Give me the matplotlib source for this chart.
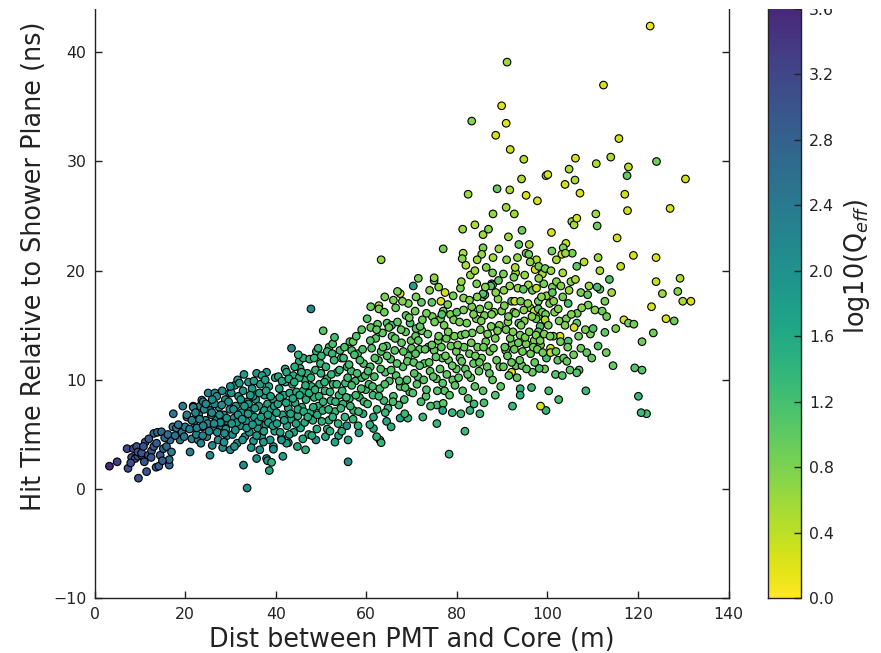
import matplotlib
matplotlib.use("Agg")
import matplotlib.pyplot as plt
import numpy as np
from matplotlib.colors import Normalize
from matplotlib.patches import Rectangle

# ---- data ----
# dist: distance between PMT and core (m), time: hit time (ns), logq: log10(Q_eff)
dist_a = [3.3, 5.0, 7.4, 7.2, 8.6, 9.3, 8.2, 9.0, 9.6, 10.4, 9.7, 9.6, 10.4, 11.5, 11.9, 12.6, 13.1, 13.7, 13.6, 14.2,
          14.5, 15.2, 15.9, 13.1, 13.9, 14.8, 16.5, 16.5, 16.7, 17.0, 17.4, 17.3, 18.1, 18.9, 19.3, 20.0, 20.4, 19.5,
          11.2, 12.0, 10.8, 15.5, 16.2, 17.8, 18.5, 19.8, 12.5, 15.0, 8.0, 11.0]
time_a = [2.1, 2.5, 1.9, 3.7, 3.7, 3.9, 2.9, 2.8, 3.0, 3.1, 1.0, 3.4, 3.3, 1.6, 3.1, 3.5, 3.9, 4.2, 2.0, 2.1,
          3.1, 3.7, 3.9, 5.1, 5.2, 5.25, 2.2, 2.7, 4.5, 3.4, 6.9, 5.7, 5.6, 4.5, 5.2, 5.7, 6.6, 7.6,
          4.3, 4.6, 3.9, 4.7, 5.0, 4.9, 5.9, 4.8, 2.9, 2.6, 2.4, 2.5]
logq_a = [3.6, 3.3, 3.1, 3.15, 3.1, 3.05, 3.1, 3.05, 3.05, 3.0, 3.05, 3.05, 3.0, 3.0, 2.95, 2.95, 2.9, 2.85, 2.95, 2.9,
          2.9, 2.75, 2.7, 2.75, 2.7, 2.65, 2.75, 2.6, 2.6, 2.3, 2.4, 2.45, 2.4, 2.45, 2.4, 2.4, 2.35, 2.35,
          2.95, 2.9, 3.0, 2.7, 2.65, 2.55, 2.45, 2.4, 2.95, 2.85, 3.1, 3.0]

dist_b = [21.1, 21.5, 22.9, 21.8, 23.3, 23.7, 25.5, 25.1, 26.6, 20.4, 21.8, 24.0, 21.0, 22.0, 22.5, 23.0, 23.8, 24.5,
          24.8, 25.5, 26.2, 26.8, 27.3, 27.5, 28.0, 28.5, 28.9, 29.3, 29.5, 29.9, 30.0, 26.0, 28.3, 22.3, 25.0, 27.0,
          29.8, 23.5, 24.2, 26.5, 28.2, 27.8, 29.0, 21.5, 25.8]
time_b = [3.4, 4.6, 4.5, 7.6, 7.6, 8.15, 3.1, 8.8, 8.8, 6.8, 7.5, 8.0, 5.5, 6.2, 5.0, 6.8, 5.7, 6.3,
          4.8, 7.2, 5.5, 6.5, 4.5, 7.5, 5.8, 6.8, 8.2, 4.9, 6.2, 7.3, 3.6, 4.0, 3.8, 7.0, 6.0, 8.5,
          8.8, 4.2, 7.3, 7.8, 9.0, 6.1, 5.5, 6.3, 6.8]
logq_b = [2.3, 2.25, 2.2, 2.25, 2.2, 2.2, 2.15, 2.2, 2.1, 2.3, 2.25, 2.2, 2.3, 2.25, 2.2, 2.2, 2.15, 2.15,
          2.2, 2.1, 2.1, 2.1, 2.1, 2.05, 2.05, 2.0, 2.05, 2.0, 2.0, 1.95, 2.1, 2.15, 2.05, 2.25, 2.15, 2.1,
          2.0, 2.2, 2.15, 2.1, 2.05, 2.05, 2.0, 2.3, 2.1]

dist_c = [31.0, 34.0, 32.9, 33.7, 35.8, 38.0, 38.2, 39.1, 38.6, 39.5, 39.5, 35.8, 38.0, 30.5, 30.8, 31.2, 31.5, 31.8,
          32.2, 32.5, 32.8, 33.2, 33.5, 33.8, 34.2, 34.5, 34.8, 35.1, 35.3, 35.6, 36.0, 36.3, 36.6, 36.9, 37.2, 37.5,
          37.8, 38.2, 38.5, 38.8, 39.2, 39.5, 39.8, 39.9, 30.2, 31.6, 33.0, 34.6, 36.5, 37.0, 30.9, 32.0, 35.0, 37.5,
          39.0, 33.6, 36.2, 38.4, 31.4, 34.0, 37.3]
time_c = [9.5, 9.8, 2.2, 0.1, 2.8, 2.8, 2.6, 2.45, 1.7, 3.9, 3.65, 10.6, 10.7, 5.0, 6.5, 7.6, 4.2, 8.5,
          5.8, 7.0, 9.0, 4.8, 6.2, 8.0, 5.2, 7.2, 9.2, 4.4, 6.6, 8.2, 5.6, 7.6, 9.6, 4.8, 6.9, 8.6,
          5.9, 7.8, 9.4, 4.5, 6.5, 8.2, 5.3, 10.2, 8.8, 10.0, 10.5, 3.8, 3.6, 10.4, 3.9, 9.7, 8.5, 7.2,
          7.3, 5.6, 6.2, 6.1, 6.1, 7.8, 4.3]
logq_c = [1.95, 1.9, 2.1, 2.05, 2.0, 1.95, 2.0, 1.45, 1.6, 1.85, 1.95, 1.9, 1.85, 2.0, 1.95, 1.95, 2.0, 1.9,
          1.95, 1.9, 1.9, 1.95, 1.9, 1.85, 1.9, 1.85, 1.85, 1.9, 1.85, 1.8, 1.85, 1.8, 1.8, 1.85, 1.75, 1.75,
          1.8, 1.75, 1.7, 1.85, 1.7, 1.7, 1.75, 1.7, 1.95, 1.9, 1.85, 1.95, 1.95, 1.75, 2.0, 1.9, 1.8, 1.75,
          1.7, 1.9, 1.8, 1.75, 1.95, 1.85, 1.85]

dist_d = [41.3, 42.8, 42.1, 42.4, 43.9, 43.5, 45.2, 46.1, 45.4, 46.5, 47.8, 48.9, 46.6, 42.4, 41.3, 40.3, 40.5, 40.8,
          41.0, 41.5, 41.8, 42.2, 42.5, 42.8, 43.1, 43.4, 43.7, 44.0, 44.3, 44.6, 44.9, 45.2, 45.5, 45.8, 46.1, 46.4,
          46.7, 47.0, 47.3, 47.6, 47.9, 48.2, 48.5, 48.8, 49.1, 49.4, 49.7, 49.9, 40.6, 44.2, 47.5, 43.0, 46.0, 48.0,
          41.6, 44.8, 49.0]
time_d = [4.65, 4.25, 11.0, 10.7, 10.4, 12.9, 11.7, 12.0, 11.05, 10.0, 16.5, 4.5, 3.6, 4.2, 4.5, 6.0, 7.8, 9.2,
          5.2, 6.8, 8.6, 9.8, 5.8, 7.4, 8.8, 6.4, 9.6, 5.2, 7.9, 8.9, 6.7, 10.2, 5.6, 7.5, 9.0, 6.1,
          8.2, 10.6, 5.0, 7.0, 9.4, 6.3, 8.4, 10.9, 5.5, 7.6, 9.6, 11.5, 10.3, 11.2, 11.9, 5.0, 4.6, 4.9,
          3.0, 3.9, 12.6]
logq_d = [1.75, 1.7, 1.6, 1.6, 1.55, 2.2, 1.5, 1.5, 1.55, 1.5, 2.05, 2.0, 1.45, 1.8, 2.0, 1.7, 1.7, 1.65,
          1.7, 1.65, 1.65, 1.6, 1.65, 1.6, 1.6, 1.6, 1.55, 1.65, 1.55, 1.55, 1.55, 1.5, 1.6, 1.5, 1.5, 1.55,
          1.5, 1.45, 1.55, 1.5, 1.45, 1.5, 1.45, 1.4, 1.5, 1.45, 1.4, 1.35, 1.65, 1.5, 1.4, 1.65, 1.6, 1.55,
          1.8, 1.6, 1.35]

dist_e = [50.5, 52.6, 54.2, 55.2, 56.4, 57.1, 49.4, 51.4, 52.5, 56.0, 58.4, 53.1, 55.7, 59.3, 50.2, 50.5, 50.8, 51.1,
          51.4, 51.7, 52.0, 52.3, 52.6, 52.9, 53.2, 53.5, 53.8, 54.1, 54.4, 54.7, 55.0, 55.3, 55.6, 55.9, 56.2, 56.5,
          56.8, 57.1, 57.4, 57.7, 58.0, 58.3, 58.6, 58.9, 59.2, 59.5, 59.8, 50.1, 53.0, 57.8, 54.6, 51.0, 59.0, 56.0,
          58.2, 52.0]
time_e = [14.5, 13.3, 12.7, 13.0, 13.5, 13.5, 12.9, 12.6, 12.4, 2.5, 5.15, 4.3, 5.8, 6.9, 6.2, 8.0, 9.8, 11.2,
          5.5, 7.3, 8.9, 10.5, 6.6, 11.8, 8.0, 9.6, 6.0, 10.9, 7.4, 9.0, 12.0, 6.6, 8.4, 10.2, 11.4, 7.6,
          9.5, 6.4, 12.3, 8.6, 10.6, 7.1, 11.8, 9.2, 12.8, 8.0, 10.4, 12.2, 13.9, 14.0, 5.3, 4.8, 14.6, 4.5,
          5.8, 5.3]
logq_e = [1.05, 1.2, 1.2, 1.15, 1.1, 0.95, 1.4, 1.4, 1.35, 2.05, 1.8, 1.65, 2.0, 1.6, 1.45, 1.4, 1.4, 1.35,
          1.5, 1.4, 1.35, 1.35, 1.4, 1.3, 1.35, 1.3, 1.4, 1.3, 1.35, 1.3, 1.25, 1.35, 1.3, 1.25, 1.25, 1.3,
          1.25, 1.35, 1.2, 1.25, 1.2, 1.3, 1.2, 1.2, 1.15, 1.25, 1.2, 1.35, 1.2, 1.1, 1.5, 1.6, 1.05, 1.6,
          1.45, 1.5]

dist_f = [60.2, 62.5, 64.6, 65.6, 67.5, 66.9, 64.1, 62.8, 62.8, 69.3, 68.8, 69.7, 63.3, 63.0, 63.3, 62.3, 61.6, 67.5,
          64.5, 61.6, 60.3, 60.6, 60.9, 61.2, 61.5, 61.8, 62.1, 62.4, 62.7, 63.0, 63.3, 63.6, 63.9, 64.2, 64.5, 64.8,
          65.1, 65.4, 65.7, 66.0, 66.3, 66.6, 66.9, 67.2, 67.5, 67.8, 68.1, 68.4, 68.7, 69.0, 69.3, 69.6, 69.9, 61.0,
          64.0, 66.5, 68.0, 60.8, 65.5, 69.2]
time_f = [15.6, 15.1, 15.2, 15.0, 17.9, 18.1, 17.6, 16.8, 16.5, 17.0, 15.9, 15.2, 21.0, 4.5, 4.25, 4.8, 5.55, 6.5,
          6.2, 6.6, 7.8, 9.6, 11.2, 12.9, 8.6, 10.3, 13.8, 7.3, 11.8, 9.2, 12.6, 14.3, 8.1, 10.7, 13.1, 7.4,
          9.9, 11.9, 14.0, 8.5, 12.7, 10.4, 15.3, 7.7, 9.4, 13.4, 11.2, 8.2, 14.4, 10.0, 12.2, 8.9, 13.6, 14.8,
          16.2, 16.6, 17.2, 5.9, 5.7, 6.5]
logq_f = [1.1, 1.0, 1.1, 1.3, 0.4, 0.85, 0.85, 0.5, 0.85, 0.85, 1.0, 1.2, 0.65, 1.55, 1.35, 1.45, 1.6, 1.7,
          1.6, 1.5, 1.25, 1.2, 1.15, 1.1, 1.25, 1.2, 1.05, 1.3, 1.1, 1.2, 1.1, 1.0, 1.25, 1.15, 1.05, 1.3,
          1.15, 1.1, 1.0, 1.2, 1.05, 1.1, 1.0, 1.25, 1.15, 1.0, 1.1, 1.2, 0.95, 1.1, 1.05, 1.15, 0.95, 1.0,
          0.9, 0.9, 0.75, 1.45, 1.5, 1.4]

dist_g = [70.4, 75.0, 77.4, 79.2, 72.2, 74.5, 76.5, 73.3, 77.0, 76.7, 80.0, 71.0, 71.9, 75.6, 77.0, 76.9, 75.6, 78.3,
          70.3, 70.6, 70.9, 71.2, 71.5, 71.8, 72.1, 72.4, 72.7, 73.0, 73.3, 73.6, 73.9, 74.2, 74.5, 74.8, 75.1, 75.4,
          75.7, 76.0, 76.3, 76.6, 76.9, 77.2, 77.5, 77.8, 78.1, 78.4, 78.7, 79.0, 79.3, 79.6, 79.9, 70.8, 74.0, 78.0,
          72.5, 79.0, 71.5, 77.0, 75.0]
time_g = [18.6, 19.1, 18.0, 17.7, 17.1, 17.1, 17.2, 16.1, 16.3, 16.0, 16.2, 14.7, 14.9, 7.7, 7.85, 7.2, 6.0, 3.2,
          8.8, 10.6, 12.4, 9.6, 13.6, 11.3, 8.0, 15.5, 10.0, 12.8, 9.1, 14.2, 11.6, 7.6, 13.2, 10.3, 15.3, 12.1,
          9.0, 14.0, 11.0, 13.0, 9.7, 15.0, 12.2, 10.5, 14.4, 8.6, 13.1, 11.3, 15.5, 9.5, 12.6, 16.3, 18.2, 16.9,
          6.6, 7.0, 19.3, 22.0, 19.35]
logq_g = [1.7, 0.85, 0.3, 0.85, 1.0, 1.0, 0.25, 0.85, 1.0, 1.1, 1.0, 1.1, 1.0, 1.25, 1.05, 1.6, 1.35, 1.35,
          1.15, 1.1, 1.05, 1.1, 1.0, 1.05, 1.2, 0.9, 1.1, 1.0, 1.1, 0.95, 1.0, 1.2, 0.95, 1.05, 0.9, 1.0,
          1.1, 0.9, 1.0, 0.95, 1.05, 0.85, 0.9, 1.0, 0.85, 1.1, 0.9, 0.95, 0.8, 1.05, 0.9, 0.9, 0.75, 0.85,
          1.3, 1.3, 0.85, 0.85, 0.65]

dist_h = [84.4, 87.7, 83.3, 85.1, 85.7, 86.2, 85.8, 81.8, 85.1, 83.8, 82.9, 82.5, 83.3, 88.6, 89.9, 88.9, 85.8, 85.8,
          85.5, 89.3, 87.9, 87.9, 89.2, 87.5, 80.4, 80.7, 81.0, 81.3, 81.6, 81.9, 82.2, 82.5, 82.8, 83.1, 83.4, 83.7,
          84.0, 84.3, 84.6, 84.9, 85.2, 85.5, 85.8, 86.1, 86.4, 86.7, 87.0, 87.3, 87.6, 87.9, 88.2, 88.5, 88.8, 89.1,
          89.4, 89.7, 81.5, 83.0, 84.5, 86.5, 82.0, 80.8, 88.0, 84.0, 87.0, 86.0, 88.5, 80.9, 81.3, 81.4, 81.2]
time_h = [18.8, 18.8, 16.7, 16.5, 17.6, 17.8, 17.9, 5.3, 6.9, 7.8, 7.2, 27.0, 33.7, 32.4, 35.1, 27.5, 23.3, 22.1,
          21.5, 22.0, 19.8, 18.7, 19.1, 18.6, 10.2, 12.0, 14.1, 9.0, 13.0, 11.0, 15.2, 8.3, 12.4, 10.2, 14.3, 11.5,
          9.4, 15.6, 13.0, 10.8, 14.6, 12.0, 9.0, 15.9, 13.5, 11.2, 16.8, 12.6, 14.9, 10.0, 16.2, 13.8, 11.8, 17.4,
          15.0, 9.4, 17.5, 19.6, 21.0, 20.3, 20.5, 18.4, 25.2, 24.2, 23.8, 7.9, 8.6, 6.9, 23.8, 21.6, 21.1]
logq_h = [0.85, 1.0, 0.85, 0.85, 0.85, 1.1, 1.1, 1.3, 1.3, 1.3, 1.4, 0.6, 0.75, 0.25, 0.2, 0.95, 0.6, 0.85,
          0.65, 0.6, 0.85, 1.0, 0.95, 1.1, 1.05, 1.0, 0.95, 1.1, 0.95, 1.0, 0.9, 1.1, 0.95, 1.0, 0.9, 0.95,
          1.05, 0.85, 0.9, 0.95, 0.85, 0.9, 1.05, 0.85, 0.9, 0.95, 0.8, 0.9, 0.85, 1.0, 0.75, 0.85, 0.95, 0.7,
          0.8, 1.0, 0.75, 0.65, 0.6, 0.75, 0.5, 0.85, 0.65, 0.5, 0.75, 1.2, 1.1, 1.3, 0.6, 0.5, 0.75]

dist_i = [91.1, 90.9, 91.8, 94.8, 94.3, 99.7, 100.1, 91.7, 95.3, 97.8, 90.9, 92.7, 94.4, 91.4, 93.7, 95.3, 95.9, 97.3,
          98.1, 99.5, 92.9, 90.3, 92.6, 94.7, 96.7, 97.6, 99.2, 92.1, 92.8, 94.1, 98.0, 97.1, 98.0, 98.9, 99.6, 91.4,
          93.7, 97.5, 98.4, 99.5, 98.0, 99.8, 98.2, 96.5, 94.0, 94.0, 92.3, 92.1, 99.7, 98.5, 90.3, 90.6, 90.9, 91.2,
          91.5, 91.8, 92.1, 92.4, 92.7, 93.0, 93.3, 93.6, 93.9, 94.2, 94.5, 94.8, 95.1, 95.4, 95.7, 96.0, 96.3, 96.6,
          96.9, 97.2, 97.5, 97.8, 98.1, 98.4, 98.7, 99.0, 99.3, 95.0, 96.2, 93.4, 91.0, 90.5]
time_i = [39.1, 33.5, 31.1, 30.2, 28.4, 28.7, 28.8, 27.4, 26.9, 26.4, 25.8, 25.2, 23.7, 23.1, 22.4, 21.6, 21.5, 20.1,
          20.4, 20.2, 20.3, 19.7, 19.4, 18.3, 18.2, 18.4, 18.8, 17.2, 17.2, 17.2, 17.2, 16.3, 16.5, 16.2, 16.0, 15.8,
          15.2, 15.6, 14.9, 15.5, 14.4, 12.0, 11.05, 9.3, 9.2, 8.6, 7.6, 10.7, 7.2, 7.6, 11.2, 13.0, 14.6, 12.2,
          10.4, 13.8, 11.6, 14.4, 12.8, 16.1, 10.2, 13.4, 11.8, 15.0, 12.6, 16.4, 13.9, 11.0, 17.0, 14.4, 12.4, 15.8,
          13.0, 11.6, 14.1, 12.8, 19.3, 13.6, 17.6, 12.5, 14.2, 19.6, 20.8, 21.2, 21.0, 16.8]
logq_i = [0.6, 0.2, 0.3, 0.45, 0.5, 0.45, 0.25, 0.5, 0.25, 0.25, 0.6, 0.6, 0.9, 0.6, 1.0, 0.85, 0.9, 0.25,
          0.85, 0.85, 0.5, 0.85, 0.85, 1.0, 1.0, 0.35, 0.85, 1.1, 0.35, 0.9, 0.9, 0.25, 1.0, 0.85, 0.9, 0.85,
          1.1, 0.9, 1.1, 0.5, 1.0, 1.2, 1.2, 1.3, 1.45, 1.45, 1.3, 0.25, 1.35, 0.25, 1.0, 0.95, 0.9, 0.95,
          1.0, 0.9, 0.95, 0.85, 0.9, 0.8, 1.0, 0.9, 0.95, 0.8, 0.9, 0.75, 0.85, 1.0, 0.7, 0.8, 0.9, 0.75,
          0.85, 0.95, 0.8, 0.9, 0.7, 0.85, 0.7, 0.9, 0.8, 0.65, 0.7, 0.65, 0.7, 0.8]

dist_j = [101.1, 101.1, 100.9, 104.1, 103.5, 105.5, 103.2, 104.0, 106.5, 105.4, 105.9, 106.5, 106.2, 104.8, 106.1,
          103.9, 107.2, 107.4, 108.9, 103.4, 104.6, 109.0, 106.6, 106.5, 105.9, 102.8, 104.6, 104.5, 107.4, 108.7,
          100.7, 100.7, 105.0, 107.0, 106.5, 108.5, 100.2, 100.5, 100.8, 101.3, 101.6, 102.0, 102.3, 102.6, 103.0,
          101.8, 103.6, 104.2, 105.2, 102.0, 100.3, 101.0, 102.5, 103.3, 109.5]
time_j = [18.5, 18.0, 23.5, 22.5, 22.1, 21.6, 21.5, 21.6, 20.4, 24.5, 24.2, 24.8, 30.3, 29.3, 28.3,
          27.9, 27.1, 18.0, 17.8, 17.6, 17.0, 16.85, 16.1, 15.2, 14.8, 14.0, 13.55, 13.0, 12.9, 12.5,
          12.9, 12.5, 10.9, 10.9, 10.65, 9.0, 15.0, 17.0, 20.0, 14.0, 16.2, 19.0, 11.8, 15.4, 18.6,
          10.5, 12.0, 15.6, 19.0, 21.0, 9.0, 21.8, 8.2, 10.4, 14.2]
logq_j = [0.85, 1.0, 0.25, 0.35, 0.85, 0.85, 0.25, 0.65, 1.0, 0.65, 0.55, 0.25, 0.25, 0.5, 0.5,
          0.3, 0.25, 0.85, 1.0, 0.9, 1.2, 0.85, 0.9, 1.0, 0.25, 0.25, 1.2, 0.9, 0.9, 1.0,
          0.35, 0.4, 1.0, 1.1, 1.1, 1.3, 0.85, 0.85, 0.65, 0.9, 0.75, 0.75, 1.0, 0.85, 0.75,
          1.1, 0.95, 0.85, 0.75, 0.55, 1.2, 0.85, 1.2, 1.1, 0.85]

dist_k = [110.7, 111.0, 112.4, 115.8, 110.8, 114.0, 117.9, 117.6, 117.1, 117.7, 115.4, 111.2, 113.7, 111.6, 111.0,
          112.7, 112.1, 113.1, 110.1, 112.7, 111.2, 116.9, 117.9, 119.1, 119.3, 120.9, 120.1, 121.9, 120.9, 119.0,
          122.7, 124.1, 130.5, 127.1, 124.0, 124.0, 129.3, 125.4, 128.8, 129.9, 131.7, 123.0, 126.2, 128.0, 123.4,
          120.7]
time_k = [25.2, 24.1, 37.0, 32.1, 29.8, 30.4, 29.5, 28.7, 27.0, 25.5, 23.0, 21.2, 19.2, 18.3, 18.5,
          17.2, 16.3, 15.8, 14.7, 14.35, 13.1, 15.5, 15.2, 15.1, 11.1, 10.9, 8.5, 6.9, 13.5, 21.4,
          42.4, 30.0, 28.4, 25.7, 21.2, 19.0, 19.3, 17.9, 18.1, 17.2, 17.2, 16.7, 15.6, 15.4, 14.3,
          7.0]
logq_k = [0.6, 0.9, 0.25, 0.3, 0.5, 0.5, 0.45, 1.0, 0.3, 0.25, 0.25, 0.6, 1.1, 1.0, 1.2,
          0.85, 0.9, 0.9, 1.1, 1.0, 1.1, 0.25, 0.9, 0.9, 1.1, 1.1, 1.35, 1.2, 0.9, 0.25,
          0.15, 0.9, 0.3, 0.25, 0.25, 0.35, 0.5, 0.6, 0.75, 0.5, 0.25, 0.25, 0.25, 0.9, 0.9,
          1.3]

# denser core of the band
dist_m = [22.6, 23.2, 23.9, 24.6, 25.3, 25.9, 26.4, 27.1, 27.6, 28.1, 28.7, 29.2, 29.6, 30.3, 30.7, 31.1, 31.7, 32.3,
          32.7, 33.1, 33.9, 34.4, 34.9, 35.4, 35.8, 36.4, 36.8, 37.4, 37.9, 38.3, 38.9, 39.4, 39.7, 24.0, 26.0, 28.6,
          30.0, 32.6, 35.2, 37.7]
time_m = [5.6, 6.4, 4.9, 7.8, 5.3, 7.0, 6.0, 5.2, 6.8, 7.7, 5.1, 6.5, 8.0, 6.0, 7.3, 5.4, 6.8, 8.2,
          4.5, 7.6, 6.9, 8.6, 5.9, 7.4, 4.9, 8.8, 6.6, 5.3, 9.0, 6.8, 8.5, 5.8, 7.6, 5.8, 8.2, 4.3,
          9.4, 6.4, 9.9, 10.0]
logq_m = [2.25, 2.2, 2.2, 2.15, 2.15, 2.1, 2.1, 2.1, 2.05, 2.05, 2.05, 2.0, 2.0, 1.95, 1.95, 1.95, 1.9, 1.9,
          1.95, 1.85, 1.85, 1.85, 1.85, 1.8, 1.85, 1.8, 1.8, 1.8, 1.75, 1.75, 1.7, 1.75, 1.7, 2.2, 2.1, 2.05,
          1.95, 1.9, 1.8, 1.75]

dist_n = [40.2, 40.9, 41.4, 41.9, 42.3, 42.9, 43.3, 43.8, 44.1, 44.5, 44.9, 45.3, 45.7, 46.2, 46.6, 47.1, 47.4, 47.8,
          48.3, 48.7, 49.2, 49.6, 50.0, 50.4, 50.9, 51.3, 51.8, 52.2, 52.7, 53.1, 53.6, 54.0, 54.5, 54.9, 55.4, 55.8,
          56.3, 56.7, 57.2, 57.6, 58.1, 58.5, 59.0, 59.4, 59.9, 45.0, 48.5, 51.8, 56.8, 53.9]
time_n = [7.0, 8.4, 9.9, 6.3, 7.9, 10.1, 6.9, 8.3, 9.8, 6.0, 7.3, 8.6, 10.7, 7.1, 9.5, 6.6, 8.8, 10.2,
          7.5, 9.1, 6.8, 8.5, 10.6, 7.2, 9.0, 10.1, 6.3, 8.1, 9.6, 7.1, 10.7, 8.6, 12.0, 7.8, 9.7, 11.2,
          8.3, 10.8, 7.2, 9.9, 12.4, 8.4, 10.2, 11.5, 9.1, 12.3, 12.0, 13.0, 12.7, 4.9]
logq_n = [1.7, 1.65, 1.65, 1.7, 1.65, 1.6, 1.65, 1.6, 1.55, 1.65, 1.6, 1.55, 1.5, 1.55, 1.5, 1.55, 1.5, 1.45,
          1.5, 1.45, 1.5, 1.45, 1.4, 1.45, 1.4, 1.4, 1.45, 1.4, 1.35, 1.4, 1.3, 1.35, 1.25, 1.35, 1.3, 1.25,
          1.3, 1.25, 1.35, 1.25, 1.15, 1.3, 1.2, 1.15, 1.2, 1.45, 1.35, 1.25, 1.15, 1.6]

dist_o = [60.4, 60.9, 61.4, 61.9, 62.3, 62.8, 63.2, 63.7, 64.1, 64.6, 65.0, 65.5, 65.9, 66.4, 66.8, 67.3, 67.7, 68.2,
          68.6, 69.1, 69.5, 70.0, 70.5, 70.9, 71.4, 71.8, 72.3, 72.8, 73.2, 73.7, 74.1, 74.6, 75.0, 75.5, 75.9, 76.4,
          76.8, 77.3, 77.7, 78.2, 78.6, 79.1, 79.5, 79.9, 61.0, 66.0, 71.0, 76.0, 68.5, 64.2]
time_o = [10.8, 13.6, 9.4, 12.0, 14.6, 8.5, 11.0, 13.0, 9.6, 12.2, 14.8, 10.9, 8.0, 13.8, 11.5, 9.9, 14.6, 12.6,
          9.3, 11.7, 15.7, 12.9, 11.6, 14.0, 10.3, 12.8, 14.5, 11.5, 8.5, 13.0, 10.8, 15.8, 12.7, 10.1, 13.6, 15.6,
          12.0, 9.0, 13.8, 11.8, 16.0, 10.0, 14.0, 11.0, 16.7, 17.3, 17.6, 18.5, 6.9, 7.0]
logq_o = [1.2, 1.1, 1.2, 1.1, 1.0, 1.25, 1.1, 1.05, 1.15, 1.05, 0.95, 1.1, 1.2, 1.0, 1.05, 1.1, 0.95, 1.0,
          1.1, 1.0, 0.9, 1.0, 1.0, 0.95, 1.05, 0.95, 0.9, 1.0, 1.1, 0.95, 1.0, 0.85, 0.95, 1.0, 0.9, 0.85,
          0.95, 1.05, 0.9, 0.95, 0.8, 1.0, 0.85, 0.95, 0.9, 0.8, 0.8, 0.7, 1.3, 1.35]

dist_p = [80.2, 80.6, 81.1, 81.5, 81.9, 82.4, 82.8, 83.2, 83.7, 84.1, 84.5, 85.0, 85.4, 85.9, 86.3, 86.8, 87.2, 87.7,
          88.1, 88.6, 89.0, 89.5, 89.9, 90.4, 90.8, 91.3, 91.7, 92.2, 92.6, 93.1, 93.5, 94.0, 94.4, 94.9, 95.3, 95.8,
          96.2, 96.7, 97.1, 97.6, 98.0, 98.5, 98.9, 99.4, 99.8, 81.0, 84.0, 88.0, 93.0, 96.0]
time_p = [13.2, 15.3, 11.7, 16.4, 14.2, 10.5, 17.3, 13.4, 16.0, 12.2, 17.6, 11.6, 15.4, 13.0, 18.5, 14.2, 10.6, 16.0,
          12.9, 18.0, 14.5, 11.2, 16.3, 18.2, 12.7, 15.3, 18.6, 13.3, 16.2, 11.3, 18.4, 14.1, 11.3, 15.4, 13.3, 18.7,
          16.6, 10.7, 13.6, 21.0, 15.8, 13.2, 19.7, 11.0, 17.7, 19.0, 20.0, 21.2, 19.8, 22.4]
logq_p = [0.9, 0.85, 0.95, 0.8, 0.9, 1.0, 0.75, 0.9, 0.8, 0.9, 0.75, 0.95, 0.85, 0.9, 0.7, 0.85, 1.0, 0.8,
          0.9, 0.7, 0.85, 0.95, 0.8, 0.7, 0.9, 0.8, 0.65, 0.85, 0.75, 0.95, 0.65, 0.8, 0.95, 0.75, 0.85, 0.6,
          0.7, 0.95, 0.8, 0.5, 0.75, 0.85, 0.55, 0.9, 0.65, 0.65, 0.6, 0.55, 0.6, 0.5]

dist_q = [100.6, 101.4, 101.9, 102.4, 102.9, 103.4, 103.9, 104.3, 104.8, 105.3, 105.8, 106.2, 106.9, 107.6, 108.1,
          108.4, 109.2, 109.8, 110.5, 111.6, 113.0, 114.2, 115.1, 116.2, 114.5]
time_q = [14.0, 17.2, 12.6, 16.5, 13.5, 19.8, 15.0, 11.7, 18.2, 16.0, 12.3, 19.2, 14.0, 16.6, 20.8,
          14.6, 18.6, 12.0, 16.4, 20.0, 12.5, 18.0, 14.7, 20.4, 11.3]
logq_q = [0.85, 0.7, 0.9, 0.75, 0.85, 0.55, 0.8, 0.95, 0.6, 0.75, 0.9, 0.55, 0.85, 0.7, 0.45,
          0.8, 0.6, 0.95, 0.7, 0.5, 0.9, 0.6, 0.8, 0.4, 0.95]

dist = np.array(dist_a + dist_b + dist_c + dist_m + dist_d + dist_n + dist_e + dist_f + dist_o + dist_g
                + dist_h + dist_p + dist_i + dist_j + dist_q + dist_k)
hit_time = np.array(time_a + time_b + time_c + time_m + time_d + time_n + time_e + time_f + time_o + time_g
                    + time_h + time_p + time_i + time_j + time_q + time_k)
log_qeff = np.array(logq_a + logq_b + logq_c + logq_m + logq_d + logq_n + logq_e + logq_f + logq_o + logq_g
                    + logq_h + logq_p + logq_i + logq_j + logq_q + logq_k)

x_ticks = [0, 20, 40, 60, 80, 100, 120, 140]
y_ticks = [-10, 0, 10, 20, 30, 40]
cbar_ticks = [0.0, 0.4, 0.8, 1.2, 1.6, 2.0, 2.4, 2.8, 3.2, 3.6]

# ---- figure ----
W, H = 881, 653
fig = plt.figure(figsize=(W / 100, H / 100), dpi=100)
fig.patch.set_facecolor("white")

# the reference is a crop: the plot frame continues above the picture
ax_l, ax_r, ax_b, ax_t = 94.5, 728.5, 598.3, -65.0
ax = fig.add_axes([ax_l / W, (H - ax_b) / H, (ax_r - ax_l) / W, (ax_b - ax_t) / H])

vmax = 4.05
norm = Normalize(vmin=0.0, vmax=vmax)
sc = ax.scatter(dist, hit_time, c=log_qeff, cmap="viridis_r", norm=norm,
                s=30, edgecolors="black", linewidths=0.8, zorder=3)

ax.set_xlim(0, 140)
ax.set_ylim(-10, 50.74)
ax.set_xticks(x_ticks)
ax.set_yticks(y_ticks)
ax.tick_params(direction="in", length=5, width=1, labelsize=11.3, colors="#222222",
               top=True, right=True, pad=6)
for s in ax.spines.values():
    s.set_linewidth(1.0)
    s.set_color("#222222")
ax.set_xlabel("Dist between PMT and Core (m)", fontsize=18.4, color="#222222", labelpad=4)
ax.set_ylabel("Hit Time Relative to Shower Plane (ns)", fontsize=18.4, color="#222222", labelpad=4)

cb_l, cb_r = 768.3, 800.7
cax = fig.add_axes([cb_l / W, (H - ax_b) / H, (cb_r - cb_l) / W, (ax_b - ax_t) / H])
cb = fig.colorbar(sc, cax=cax)
cb.set_ticks(cbar_ticks)
cb.set_ticklabels([f"{t:.1f}" for t in cbar_ticks])
cax.tick_params(direction="in", length=5, width=1, labelsize=11.3, colors="#222222", pad=6)
cb.outline.set_linewidth(1.0)
cb.outline.set_edgecolor("#222222")
cb.set_label(r"log10(Q$_{eff}$)", fontsize=18.4, color="#222222", labelpad=6)

# blank strip at the very top of the picture
fig.add_artist(Rectangle((0, 1 - 9.0 / H), 1, 9.0 / H, transform=fig.transFigure,
                         facecolor="white", edgecolor="none", zorder=20))

fig.savefig("out.png", dpi=100)
